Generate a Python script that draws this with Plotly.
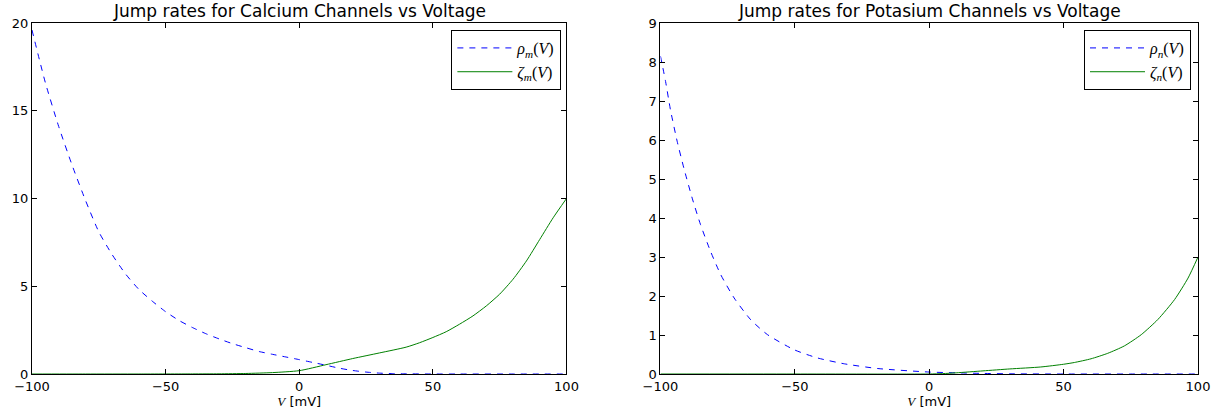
import plotly.graph_objects as go

# ---- data ----
# Calcium channels (left panel)
v_rho_m = [-100, -95, -90, -85, -80, -75, -70, -65, -60, -55, -50, -45, -40, -35, -30, -25, -20, -15, -10, -5, 0, 5, 10, 15, 20, 25, 30, 35, 40, 50, 60, 80, 100]
rho_m = [19.6, 16.6, 14.1, 11.9, 9.9, 8.1, 6.8, 5.7, 4.82, 4.15, 3.55, 3.05, 2.65, 2.3, 2.0, 1.73, 1.5, 1.28, 1.12, 0.97, 0.82, 0.66, 0.5, 0.33, 0.2, 0.11, 0.05, 0.02, 0.01, 0.0, 0.0, 0.0, 0.0]
v_zeta_m = [-100, -80, -60, -40, -30, -20, -10, 0, 10, 20, 30, 40, 45, 50, 55, 60, 65, 70, 75, 80, 85, 90, 95, 100]
zeta_m = [0.0, 0.0, 0.0, 0.005, 0.01, 0.03, 0.08, 0.19, 0.53, 0.88, 1.2, 1.53, 1.78, 2.08, 2.41, 2.84, 3.31, 3.88, 4.55, 5.4, 6.44, 7.67, 8.9, 10.0]

# Potassium channels (right panel)
v_rho_n = [-100, -98.1, -96.3, -93.8, -91.3, -88.2, -85.1, -81.4, -77.6, -72.6, -66.4, -60.2, -50.2, -41.5, -31.5, -19.1, 0, 10, 20, 30, 50, 75, 100]
rho_n = [8.15, 7.5, 6.78, 5.97, 5.28, 4.51, 3.83, 3.15, 2.55, 1.95, 1.39, 1.01, 0.62, 0.41, 0.26, 0.14, 0.05, 0.03, 0.015, 0.005, 0.0, 0.0, 0.0]
v_zeta_n = [-100, -50, 0, 5, 10, 20, 30, 41.5, 50, 54, 60.2, 66.4, 72.6, 78.9, 85.1, 91.3, 96.3, 100]
zeta_n = [0.0, 0.0, 0.0, 0.01, 0.03, 0.08, 0.13, 0.18, 0.25, 0.295, 0.39, 0.53, 0.72, 1.01, 1.4, 1.91, 2.46, 3.0]

titles = ["Jump rates for Calcium Channels vs Voltage", "Jump rates for Potasium Channels vs Voltage"]
x_ticks = [-100, -50, 0, 50, 100]
y_ticks_left = [0, 5, 10, 15, 20]
y_ticks_right = [0, 1, 2, 3, 4, 5, 6, 7, 8, 9]

SERIF = "Liberation Serif"
SANS = "DejaVu Sans"
BLUE = "#0000ff"
GREEN = "#008000"


def lab(sym, sub):
    return (f'<i>{sym}</i><sub><i>{sub}</i></sub>(<i>V</i>)')


fig = go.Figure()
fig.add_trace(go.Scatter(x=v_rho_m, y=rho_m, mode="lines", name=lab("ρ", "m"),
                         line=dict(color=BLUE, width=1, dash="6px,6px", shape="spline", smoothing=0.6),
                         xaxis="x", yaxis="y", legend="legend"))
fig.add_trace(go.Scatter(x=v_zeta_m, y=zeta_m, mode="lines", name=lab("ζ", "m"),
                         line=dict(color=GREEN, width=1, shape="spline", smoothing=0.6),
                         xaxis="x", yaxis="y", legend="legend"))
fig.add_trace(go.Scatter(x=v_rho_n, y=rho_n, mode="lines", name=lab("ρ", "n"),
                         line=dict(color=BLUE, width=1, dash="6px,6px", shape="spline", smoothing=0.6),
                         xaxis="x2", yaxis="y2", legend="legend2"))
fig.add_trace(go.Scatter(x=v_zeta_n, y=zeta_n, mode="lines", name=lab("ζ", "n"),
                         line=dict(color=GREEN, width=1, shape="spline", smoothing=0.6),
                         xaxis="x2", yaxis="y2", legend="legend2"))

axis_common = dict(showline=True, linecolor="black", linewidth=1, mirror="ticks",
                   ticks="inside", ticklen=5, tickcolor="black", tickwidth=1,
                   showgrid=False, zeroline=False, automargin=False,
                   tickfont=dict(family=SANS, size=13, color="black"))

xtitle = dict(text=f'<span style="font-family:{SERIF}"><i>V</i></span> [mV]',
              font=dict(family=SANS, size=13, color="black"), standoff=2)

legend_common = dict(y=0.98, yanchor="top", xanchor="right", bgcolor="white",
                     bordercolor="black", borderwidth=1, itemwidth=55,
                     font=dict(family=SERIF, size=16, color="black"))

fig.update_layout(
    width=1212, height=410,
    margin=dict(l=32, r=14, t=23, b=36),
    plot_bgcolor="white", paper_bgcolor="white",
    xaxis=dict(domain=[0, 0.4584], range=[-100, 100], tickvals=x_ticks, anchor="y",
               title=xtitle, **axis_common),
    yaxis=dict(domain=[0, 1], range=[0, 20], tickvals=y_ticks_left, anchor="x", **axis_common),
    xaxis2=dict(domain=[0.539, 1], range=[-100, 100], tickvals=x_ticks, anchor="y2",
                title=xtitle, **axis_common),
    yaxis2=dict(domain=[0, 1], range=[0, 9], tickvals=y_ticks_right, anchor="x2", **axis_common),
    legend=dict(x=0.454, **legend_common),
    legend2=dict(x=0.994, **legend_common),
    annotations=[
        dict(text=titles[0], x=0.2292, xref="paper", y=1.0, yref="paper", yanchor="bottom",
             xanchor="center", showarrow=False, yshift=0,
             font=dict(family=SANS, size=17, color="black")),
        dict(text=titles[1], x=0.7695, xref="paper", y=1.0, yref="paper", yanchor="bottom",
             xanchor="center", showarrow=False, yshift=0,
             font=dict(family=SANS, size=17, color="black")),
    ],
)

fig.write_html("out.html")
